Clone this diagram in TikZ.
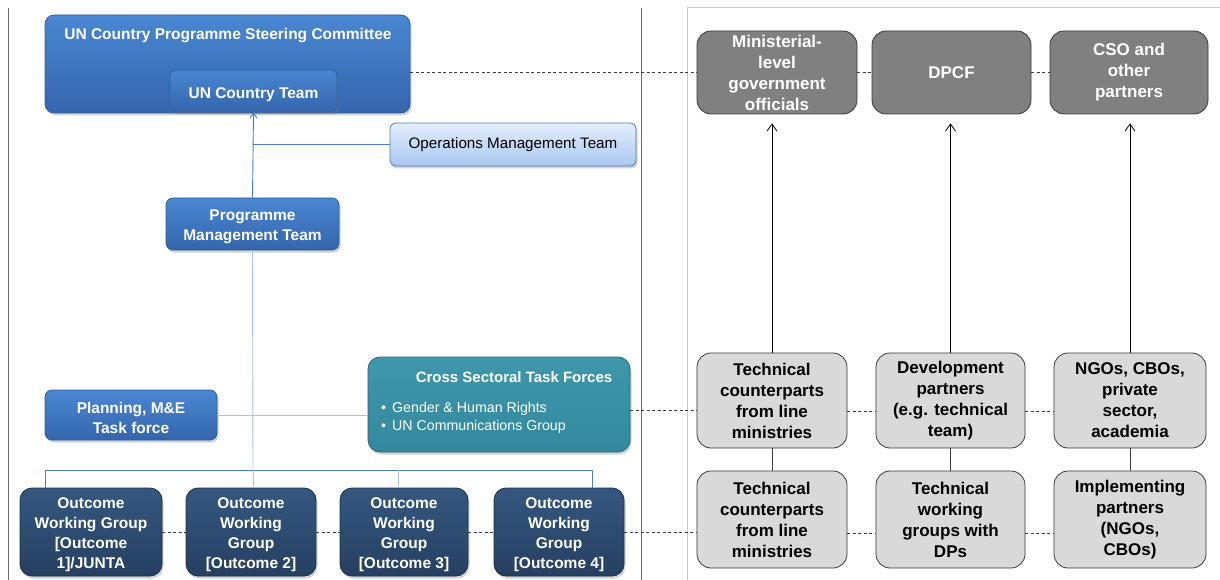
\documentclass[tikz,border=0pt]{standalone}
\usepackage{fontspec}
\setmainfont{Liberation Sans}
\usetikzlibrary{arrows.meta,shadows,calc}

\definecolor{bluetop}{HTML}{4A87D2}
\definecolor{bluebot}{HTML}{3465AC}
\definecolor{blueedge}{HTML}{2F5C98}
\definecolor{omttop}{HTML}{E4EEFB}
\definecolor{omtbot}{HTML}{A9C7F0}
\definecolor{tealtop}{HTML}{3F97AB}
\definecolor{tealbot}{HTML}{33889C}
\definecolor{tealedge}{HTML}{236A7A}
\definecolor{navytop}{HTML}{35577F}
\definecolor{navybot}{HTML}{263F61}
\definecolor{navyedge}{HTML}{1C304C}
\definecolor{linkblue}{HTML}{4A7EBB}
\definecolor{paleblue}{HTML}{A8C3E4}
\definecolor{darkgrey}{HTML}{808080}
\definecolor{lightgrey}{HTML}{D9D9D9}
\definecolor{boxedge}{HTML}{3A3A3A}
\definecolor{framegrey}{HTML}{6A6A6A}
\definecolor{panelgrey}{HTML}{CACACA}

% a tall invisible strut for the first line, nudging box text down a little
\newcommand{\firststrut}{\rule{0pt}{16.5pt}}

\begin{document}
\begin{tikzpicture}[x=1pt,y=-1pt,
  sz/.style 2 args={minimum width=#1pt, minimum height=#2pt},
  shadowed/.style={drop shadow={opacity=0.35, shadow xshift=1.5pt, shadow yshift=-2.5pt}},
  bluebox/.style={rounded corners=9pt, draw=blueedge, line width=0.7pt,
    top color=bluetop, bottom color=bluebot, text=white, align=center,
    inner sep=0pt, font=\bfseries\fontsize{15.5}{20}\selectfont, shadowed},
  omtbox/.style={rounded corners=6pt, draw=linkblue, line width=0.8pt,
    top color=omttop, bottom color=omtbot, text=black, align=center,
    inner sep=0pt, font=\fontsize{15.2}{18}\selectfont, shadowed},
  tealbox/.style={rounded corners=12pt, draw=tealedge, line width=0.8pt,
    top color=tealtop, bottom color=tealbot, inner sep=0pt, shadowed},
  navybox/.style={rounded corners=12pt, draw=navyedge, line width=0.8pt,
    top color=navytop, bottom color=navybot, text=white, align=center,
    inner sep=0pt, font=\bfseries\fontsize{15.5}{20}\selectfont, shadowed},
  greybox/.style={rounded corners=14pt, draw=boxedge, line width=0.8pt,
    fill=darkgrey, text=white, align=center, inner sep=0pt,
    font=\bfseries\fontsize{17}{21}\selectfont},
  paleboxr/.style={rounded corners=14pt, draw=boxedge, line width=0.8pt,
    fill=lightgrey, text=black, align=center, inner sep=0pt,
    font=\bfseries\fontsize{17}{21}\selectfont},
  bluelink/.style={draw=linkblue, line width=0.9pt},
  palelink/.style={draw=paleblue, line width=0.9pt},
  dashlink/.style={draw=boxedge, line width=0.8pt, dash pattern=on 3pt off 2.5pt},
  uparrow/.style={draw=black, line width=0.8pt, -{Straight Barb[length=7pt,width=10pt]}},
  plainlink/.style={draw=boxedge, line width=0.8pt}
]
\useasboundingbox (0,0) rectangle (1220,580);

% panel frames
\draw[framegrey, line width=0.6pt] (8,8) -- (8,580);
\draw[framegrey, line width=0.6pt] (641,8) -- (641,580);
\draw[panelgrey, line width=1pt] (1220,8) -- (687,8) -- (687,580);

% ---- UN side ----
\node[bluebox, sz={365}{98}] (steer) at (227.5,64) {};
\node[text=white, font=\bfseries\fontsize{15.5}{18}\selectfont, inner sep=0pt] (steertitle) at (228,35.5) {UN Country Programme Steering Committee};
\node[bluebox, rounded corners=6pt, sz={167}{42}] (unct) at (253.5,91) {\rule{0pt}{18pt}UN Country Team};
\node[omtbox, sz={246}{43}] (omt) at (513,144.5) {Operations Management Team};
\node[bluebox, rounded corners=7pt, sz={173}{52}] (pmt) at (252.5,224) {\firststrut Programme\\Management Team};
\node[bluebox, rounded corners=7pt, sz={172}{50}] (pme) at (131,415) {\firststrut Planning, M\&E\\Task force};
\node[tealbox, sz={262}{95}] (cstf) at (499,404.5) {};
\node[text=white, font=\bfseries\fontsize{15}{18}\selectfont, inner sep=0pt] (cstftitle) at (514,377) {Cross Sectoral Task Forces};
\node[text=white, font=\fontsize{14.2}{18}\selectfont, align=left, anchor=west, inner sep=0pt] (cstflist) at (381,418)
  {\textbullet\hspace{6pt}Gender \& Human Rights\\\textbullet\hspace{6pt}UN Communications Group};

\node[navybox, sz={142}{88}] (ow1) at (91,532) {\firststrut Outcome\\Working Group\\{[}Outcome\\1{]}/JUNTA};
\node[navybox, sz={130}{88}] (ow2) at (251,532) {\firststrut Outcome\\Working\\Group\\{[}Outcome 2{]}};
\node[navybox, sz={128}{88}] (ow3) at (404,532) {\firststrut Outcome\\Working\\Group\\{[}Outcome 3{]}};
\node[navybox, sz={130}{88}] (ow4) at (559,532) {\firststrut Outcome\\Working\\Group\\{[}Outcome 4{]}};

% UN side connectors
\draw[bluelink, -{Straight Barb[length=5pt,width=7pt]}] (pmt.north) -- (unct.south);
\draw[bluelink] (omt.west) -- (omt.west -| pmt.north);
\draw[palelink] (pmt.south) -- (253,470);
\coordinate (busL) at (45,470);
\coordinate (busR) at (592,470);
\coordinate (bus3) at (398,470);
\draw[bluelink] (busL) -- (busR);
\draw[bluelink] (busL) -- (busL |- ow1.north);
\draw[palelink] (253,470) -- (253,470 |- ow2.north);
\draw[palelink] (bus3) -- (bus3 |- ow3.north);
\draw[bluelink] (busR) -- (busR |- ow4.north);
\draw[palelink] (pme.east) -- (pme.east -| cstf.west);

% ---- partner side ----
\node[greybox, sz={160}{83}] (min) at (777,72.5) {Ministerial-\\level\\government\\officials};
\node[greybox, sz={159}{83}] (dpcf) at (951.5,72.5) {DPCF};
\node[greybox, sz={158}{83}] (cso) at (1129,72.5) {CSO and\\other\\partners};

\node[paleboxr, sz={150}{95}] (tc1) at (772,400.5) {Technical\\counterparts\\from line\\ministries};
\node[paleboxr, sz={149}{95}] (dp) at (950.5,400.5) {Development\\partners\\(e.g. technical\\team)};
\node[paleboxr, sz={152}{95}] (ngo) at (1130,400.5) {NGOs, CBOs,\\private\\sector,\\academia};

\node[paleboxr, sz={150}{97}] (tc2) at (772,519.5) {Technical\\counterparts\\from line\\ministries};
\node[paleboxr, sz={149}{97}] (twg) at (950.5,519.5) {Technical\\working\\groups with\\DPs};
\node[paleboxr, sz={152}{97}] (imp) at (1130,519.5) {Implementing\\partners\\(NGOs,\\CBOs)};

% upward arrows
\draw[uparrow, shorten >=9pt] (tc1.north) -- (tc1.north |- min.south);
\draw[uparrow, shorten >=9pt] (dp.north) -- (dp.north |- dpcf.south);
\draw[uparrow, shorten >=9pt] (ngo.north) -- (ngo.north |- cso.south);

% vertical links
\draw[plainlink] (tc1.south) -- (tc2.north);
\draw[plainlink] (dp.south) -- (twg.north);
\draw[plainlink] (ngo.south) -- (imp.north);

% dashed links
\draw[dashlink] (min.west -| steer.east) -- (min.west);
\draw[dashlink] (min.east) -- (dpcf.west);
\draw[dashlink] (dpcf.east) -- (cso.west);

\draw[dashlink] ([yshift=-6pt]cstf.east) -- ([yshift=-6pt]cstf.east -| tc1.west);
\draw[dashlink] ([yshift=-11pt]tc1.east) -- ([yshift=-11pt]tc1.east -| dp.west);
\draw[dashlink] ([yshift=-11pt]dp.east) -- ([yshift=-11pt]dp.east -| ngo.west);

\draw[dashlink] (ow1.east) -- (ow2.west);
\draw[dashlink] (ow2.east) -- (ow3.west);
\draw[dashlink] (ow3.east) -- (ow4.west);
\draw[dashlink] (ow4.east) -- (ow4.east -| tc2.west);
\draw[dashlink] ([yshift=-14pt]tc2.east) -- ([yshift=-14pt]tc2.east -| twg.west);
\draw[dashlink] ([yshift=-14pt]twg.east) -- ([yshift=-14pt]twg.east -| imp.west);
\end{tikzpicture}
\end{document}
